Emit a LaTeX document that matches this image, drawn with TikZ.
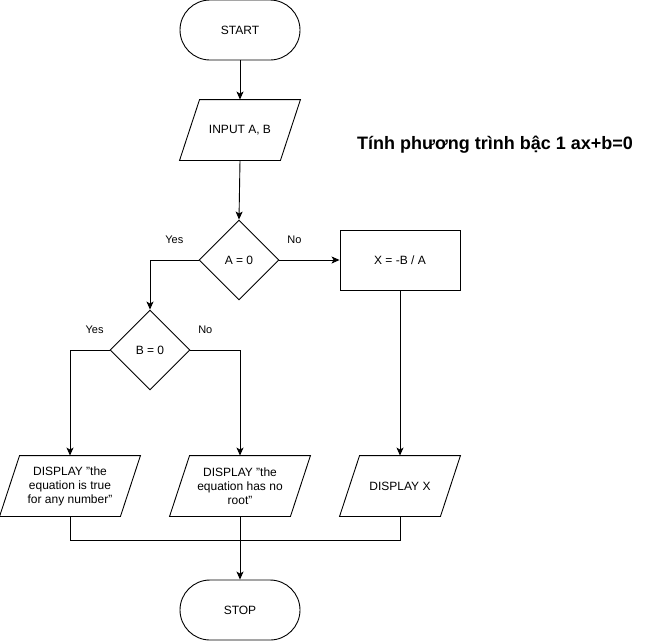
\documentclass[tikz,border=0pt]{standalone}
\usepackage{fontspec}
\setmainfont{Liberation Sans}
\usetikzlibrary{shapes.geometric,arrows.meta}

\tikzset{
  term/.style={draw, rounded corners=30pt, minimum width=120pt, minimum height=60pt, inner sep=0pt},
  iobox/.style={minimum height=60pt, inner sep=0pt, align=center},
  decide/.style={draw, diamond, minimum width=80pt, minimum height=80pt, inner sep=0pt},
  proc/.style={draw, minimum width=120pt, minimum height=60pt, inner sep=0pt},
  lbl/.style={font=\fontsize{11}{13}\selectfont, yshift=20pt},
  flow/.style={-{Stealth[length=8pt,width=7pt,inset=2pt]}},
}
% parallelogram outline round a node
\newcommand{\slantbox}[1]{\draw ([xshift=20pt]#1.north west) -- (#1.north east)
  -- ([xshift=-20pt]#1.south east) -- (#1.south west) -- cycle;}

\begin{document}
\begin{tikzpicture}[x=1pt,y=-1pt,line width=0.9pt,font=\fontsize{12}{14}\selectfont]
\useasboundingbox (0,0) rectangle (650,641);

\node[term] (start) at (240,30) {START};
\node[iobox, minimum width=120pt] (inp) at (240,130) {INPUT A, B};
\slantbox{inp}
\node[decide] (da) at (239,260) {A = 0};
\node[proc] (calc) at (400,260) {X = -B / A};
\node[decide] (db) at (150,350) {B = 0};

\node[iobox, minimum width=140pt] (out1) at (70,486) {DISPLAY "the\\equation is true\\for any number"};
\slantbox{out1}
\node[iobox, minimum width=140pt] (out2) at (240,486) {DISPLAY "the\\equation has no\\root"};
\slantbox{out2}
\node[iobox, minimum width=120pt] (out3) at (400,486) {DISPLAY X};
\slantbox{out3}

\node[term] (stop) at (240,610) {STOP};
\coordinate (join) at (240,540);

\node (title) at (495,145) {\fontsize{18}{21}\bfseries Tính phương trình bậc 1 ax+b=0};

\draw [flow] (start.south) -- (inp.north);
\draw [flow] (inp.south) -- (da.north);
\draw [flow] (da.east) -- node[lbl, pos=0.25] {No} (calc.west);
\draw [flow] (da.west) -| node[lbl, pos=0.25] {Yes} (db.north);
\draw [flow] (db.west) -| node[lbl, pos=0.19] {Yes} (out1.north);
\draw [flow] (db.east) -| node[lbl, pos=0.15] {No} (out2.north);
\draw [flow] (calc.south) -- (out3.north);
\draw (out1.south) |- (join) -| (out3.south);
\draw [flow] (out2.south) -- (stop.north);
\end{tikzpicture}
\end{document}
